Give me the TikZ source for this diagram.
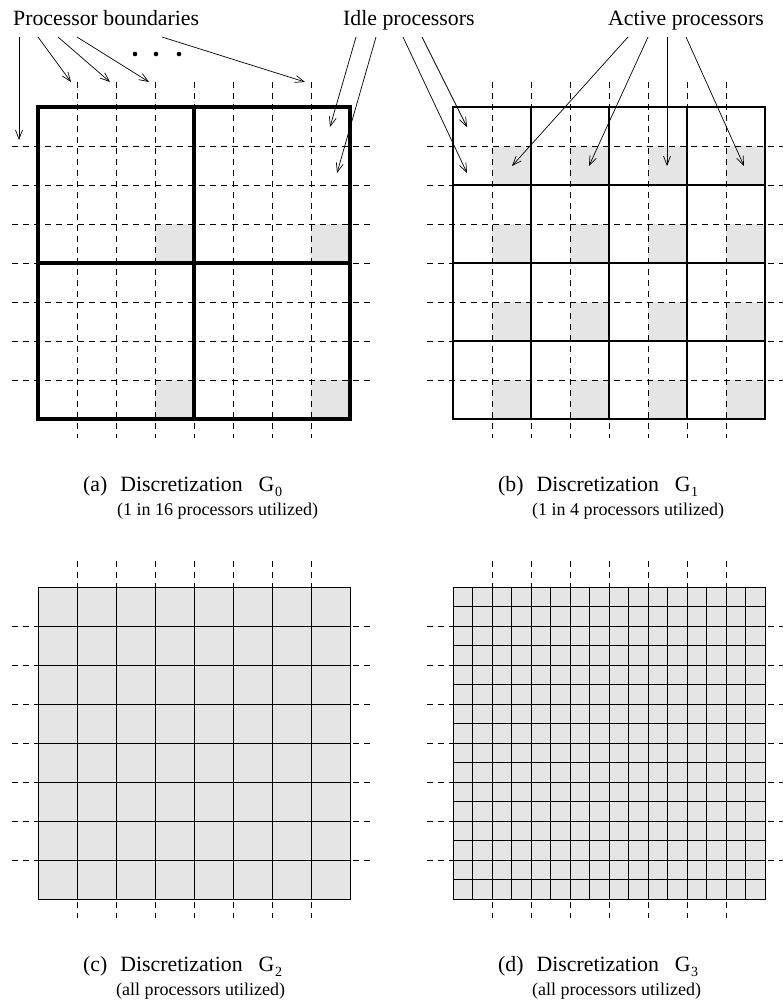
\documentclass[tikz,border=0pt]{standalone}
\usepackage{fontspec}
\setmainfont{Liberation Serif}
\usetikzlibrary{arrows.meta}
\newcommand\Gsub[1]{G\hspace{0.6pt}\raisebox{-5.5pt}{\fontsize{14}{15}\selectfont #1}}
\begin{document}
\begin{tikzpicture}[x=1pt,y=-1pt,
  thickA/.style={line width=3.2pt},
  thickB/.style={line width=2pt},
  gridline/.style={line width=0.9pt},
  dashline/.style={line width=0.8pt, dash pattern=on 6pt off 5pt},
  cellfill/.style={fill=gray!20},
  pointer/.style={line width=0.7pt, -{Straight Barb[length=9pt,width=7pt,line width=0.7pt]}},
  lbl/.style={inner sep=0pt, anchor=base west, font=\fontsize{21.8}{24}\selectfont},
  sublbl/.style={inner sep=0pt, anchor=base west, font=\fontsize{18}{20}\selectfont},
  dotmark/.style={fill=black}
]
\useasboundingbox (0,0) rectangle (783,1002);

% ---------- (a) G0 ----------
\foreach \i in {3,7} \foreach \j in {3,7}
  \fill[cellfill] ({38+39*\i},{107+39*\j}) rectangle ++(39,39);
\foreach \k in {1,...,7} {
  \draw[dashline] ({38+39*\k},82) -- ({38+39*\k},438);
  \draw[dashline] (12,{107+39*\k}) -- (372,{107+39*\k});
}
\draw[thickA] (38,107) rectangle (350,419);
\draw[thickA] (194,107) -- (194,419);
\draw[thickA] (38,263) -- (350,263);

% ---------- (b) G1 ----------
\foreach \i in {1,3,5,7} \foreach \j in {1,3,5,7}
  \fill[cellfill] ({453+39*\i},{107+39*\j}) rectangle ++(39,39);
\foreach \k in {1,...,7} {
  \draw[dashline] ({453+39*\k},82) -- ({453+39*\k},438);
  \draw[dashline] (427,{107+39*\k}) -- (783,{107+39*\k});
}
\draw[thickB] (453,107) rectangle (765,419);
\foreach \k in {2,4,6} {
  \draw[thickB] ({453+39*\k},107) -- ({453+39*\k},419);
  \draw[thickB] (453,{107+39*\k}) -- (765,{107+39*\k});
}

% ---------- (c) G2 ----------
\fill[cellfill] (38,587) rectangle (350,899);
\foreach \k in {1,...,7} {
  \draw[gridline] ({38+39*\k},587) -- ({38+39*\k},899);
  \draw[gridline] (38,{587+39*\k}) -- (350,{587+39*\k});
}
\draw[gridline] (38,587) rectangle (350,899);
\foreach \k in {1,...,7} {
  \draw[dashline] ({38+39*\k},561) -- ({38+39*\k},918);
  \draw[dashline] (12,{587+39*\k}) -- (372,{587+39*\k});
}

% ---------- (d) G3 ----------
\fill[cellfill] (453,587) rectangle (765,899);
\foreach \k in {1,...,15} {
  \draw[gridline] ({453+19.5*\k},587) -- ({453+19.5*\k},899);
  \draw[gridline] (453,{587+19.5*\k}) -- (765,{587+19.5*\k});
}
\draw[gridline] (453,587) rectangle (765,899);
\foreach \k in {1,...,7} {
  \draw[dashline] ({453+39*\k},561) -- ({453+39*\k},918);
  \draw[dashline] (427,{587+39*\k}) -- (783,{587+39*\k});
}

% ---------- labels ----------
\node[lbl] (pb) at (13,25) {Processor boundaries};
\node[lbl] (idle) at (343,25) {Idle processors};
\node[lbl] (act) at (608,25) {Active processors};

\coordinate (pbs1) at (19,37);  \coordinate (pbt1) at (19,140);
\coordinate (pbs2) at (38,37);  \coordinate (pbt2) at (71,82);
\coordinate (pbs3) at (58,37);  \coordinate (pbt3) at (110,82);
\coordinate (pbs4) at (77,37);  \coordinate (pbt4) at (149,82);
\coordinate (pbs5) at (162,37); \coordinate (pbt5) at (305,82);
\foreach \n in {1,...,5} \draw[pointer] (pbs\n) -- (pbt\n);
\fill[dotmark] (135,54) circle (2.3);
\fill[dotmark] (156,54) circle (2.3);
\fill[dotmark] (179,54) circle (2.3);

\coordinate (ids1) at (356,37); \coordinate (idt1) at (330,127);
\coordinate (ids2) at (376,37); \coordinate (idt2) at (337,173);
\coordinate (ids3) at (403,37); \coordinate (idt3) at (467,173);
\coordinate (ids4) at (422,37); \coordinate (idt4) at (467,127);
\foreach \n in {1,...,4} \draw[pointer] (ids\n) -- (idt\n);

\coordinate (acs1) at (628,37); \coordinate (act1) at (512,166);
\coordinate (acs2) at (648,37); \coordinate (act2) at (589,166);
\coordinate (acs3) at (667,37); \coordinate (act3) at (667,166);
\coordinate (acs4) at (686,37); \coordinate (act4) at (744,166);
\foreach \n in {1,...,4} \draw[pointer] (acs\n) -- (act\n);

% ---------- captions ----------
\node[lbl] (capa) at (83,491) {(a)\hspace{13pt}Discretization\hspace{16pt}\Gsub{0}};
\node[sublbl] (capa2) at (117,515) {(1 in 16 processors utilized)};
\node[lbl] (capb) at (498,491) {(b)\hspace{13pt}Discretization\hspace{16pt}\Gsub{1}};
\node[sublbl] (capb2) at (532,515) {(1 in 4 processors utilized)};
\node[lbl] (capc) at (83,971) {(c)\hspace{13pt}Discretization\hspace{16pt}\Gsub{2}};
\node[sublbl] (capc2) at (116,995) {(all processors utilized)};
\node[lbl] (capd) at (498,971) {(d)\hspace{13pt}Discretization\hspace{16pt}\Gsub{3}};
\node[sublbl] (capd2) at (532,995) {(all processors utilized)};
\end{tikzpicture}
\end{document}
